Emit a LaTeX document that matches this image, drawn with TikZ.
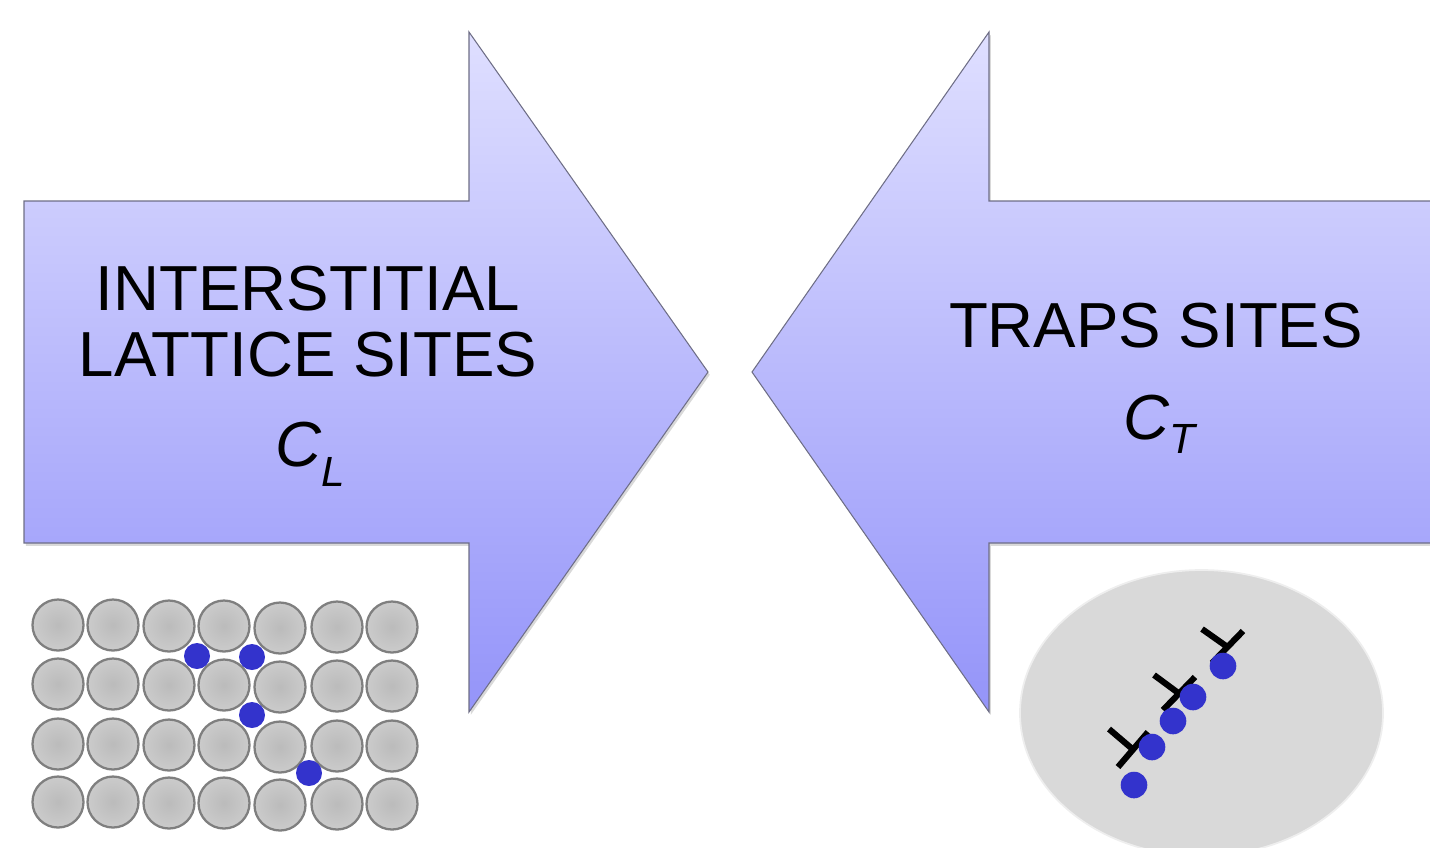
\documentclass[tikz,border=0pt]{standalone}
\usepackage{fontspec}
\setmainfont{Liberation Sans}
\usetikzlibrary{shadows,positioning,calc}
\definecolor{arrowtop}{HTML}{DFDFFF}
\definecolor{arrowbot}{HTML}{9494F9}
\definecolor{arrowline}{HTML}{6E6E86}
\definecolor{atomin}{HTML}{BBBBBB}
\definecolor{atomout}{HTML}{DBDBDB}
\definecolor{atomline}{HTML}{7F7F7F}
\definecolor{hydrogen}{HTML}{3333CC}
\definecolor{grain}{HTML}{D9D9D9}
\definecolor{grainline}{HTML}{EEEEEE}
\pgfdeclareradialshading{atomshade}{\pgfpoint{0bp}{0bp}}{color(0bp)=(atomin); color(50bp)=(atomout)}

\begin{document}
\begin{tikzpicture}[x=0.01cm, y=-0.01cm,
  bigarrow/.style={draw=arrowline, line width=0.3pt, top color=arrowtop,
    bottom color=arrowbot,
    drop shadow={shadow xshift=0.5pt, shadow yshift=-0.8pt, opacity=0.3}},
  sitetext/.style={font=\fontsize{18.1}{18.8}\selectfont, align=center, inner sep=0pt},
  conc/.style={font=\fontsize{18.1}{18}\selectfont\itshape, inner sep=0pt, anchor=base},
  atom/.style={draw=atomline, line width=0.65pt, shading=atomshade},
  solute/.style={fill=hydrogen},
  disloc/.style={line width=1.75pt}
]
\useasboundingbox (0,0) rectangle (1430,847);
\clip (0,0) rectangle (1430,847);

% the two block arrows
\draw[bigarrow] (24,201) -- (469,201) -- (469,32) -- (708,372)
  -- (469,712) -- (469,543) -- (24,543) -- cycle;
\draw[bigarrow] (1445,201) -- (989,201) -- (989,32) -- (752,372)
  -- (989,712) -- (989,543) -- (1445,543) -- cycle;

\node[sitetext] (interstitial) at (308,322) {INTERSTITIAL\\LATTICE SITES};
\node[conc] (cl) at (310,466) {C\raisebox{-5.9pt}{\fontsize{12}{12}\selectfont L}};
\node[sitetext, anchor=base] (traps) at (1156,347) {TRAPS SITES};
\node[conc] (ct) at (1159,439) {C\raisebox{-4pt}{\fontsize{12}{12}\selectfont T}};

% host lattice
\foreach \x/\dy in {58/0,113/0,169/1,224/1,280/3,337/2,392/2}
  \foreach \y in {625,684,744,802}
    \path[atom] (\x,\y+\dy) circle (25.5);
\foreach \x/\y in {197/656,252/657,252/715,309/773}
  \fill[solute] (\x,\y) circle (13);

% grain with dislocations
\draw[grainline, fill=grain, line width=0.5pt] (1201.5,713) ellipse (181.5 and 143);
\foreach \ax/\ay/\bx/\by/\sx/\sy in {1118/767/1148/732/1109/729,
                                     1163/710/1195/677/1154/675,
                                     1212/663/1243/631/1202/629}
  \draw[disloc] (\ax,\ay) -- (\bx,\by) ($(\ax,\ay)!0.5!(\bx,\by)$) -- (\sx,\sy);
\foreach \x/\y in {1223/666,1193/697,1173/721,1152/747,1134/785}
  \fill[solute] (\x,\y) circle (13.3);
\end{tikzpicture}
\end{document}
